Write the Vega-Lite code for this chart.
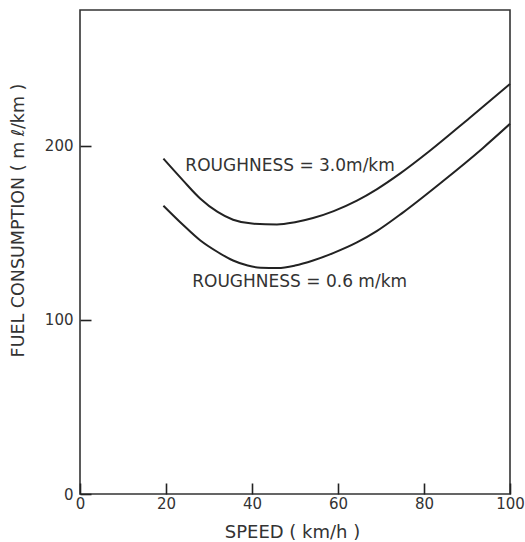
{
  "$schema": "https://vega.github.io/schema/vega-lite/v6.json",
  "autosize": "none",
  "width": 430,
  "height": 484,
  "padding": {"left": 80, "top": 10, "right": 15, "bottom": 48},
  "background": "white",
  "config": {
    "view": {"stroke": "#333", "strokeWidth": 1.6},
    "font": "DejaVu Sans",
    "axis": {
      "grid": false,
      "domain": false,
      "offset": -11,
      "ticks": true,
      "tickColor": "#222",
      "tickWidth": 1.6,
      "tickSize": 11,
      "labelFlush": false,
      "labelFont": "DejaVu Sans",
      "labelFontSize": 15,
      "labelColor": "#333",
      "titleFont": "DejaVu Sans",
      "titleFontSize": 17.5,
      "titleFontWeight": "normal",
      "titleColor": "#333"
    }
  },
  "datasets": {
    "curves": [
      {"speed": 19.4, "fuel": 192.6, "roughness": "3.0"},
      {"speed": 24, "fuel": 180, "roughness": "3.0"},
      {"speed": 28, "fuel": 169.6, "roughness": "3.0"},
      {"speed": 32, "fuel": 162, "roughness": "3.0"},
      {"speed": 35.6, "fuel": 157.5, "roughness": "3.0"},
      {"speed": 40, "fuel": 155.3, "roughness": "3.0"},
      {"speed": 45.8, "fuel": 154.8, "roughness": "3.0"},
      {"speed": 50, "fuel": 156.1, "roughness": "3.0"},
      {"speed": 54.2, "fuel": 158.5, "roughness": "3.0"},
      {"speed": 59, "fuel": 162.5, "roughness": "3.0"},
      {"speed": 64.4, "fuel": 168.5, "roughness": "3.0"},
      {"speed": 69, "fuel": 175, "roughness": "3.0"},
      {"speed": 74.4, "fuel": 184, "roughness": "3.0"},
      {"speed": 81.3, "fuel": 197, "roughness": "3.0"},
      {"speed": 90.6, "fuel": 216, "roughness": "3.0"},
      {"speed": 100, "fuel": 235.5, "roughness": "3.0"},
      {"speed": 19.4, "fuel": 165.6, "roughness": "0.6"},
      {"speed": 24, "fuel": 154.5, "roughness": "0.6"},
      {"speed": 28, "fuel": 145.6, "roughness": "0.6"},
      {"speed": 32, "fuel": 139, "roughness": "0.6"},
      {"speed": 35.6, "fuel": 134.1, "roughness": "0.6"},
      {"speed": 39, "fuel": 131.2, "roughness": "0.6"},
      {"speed": 42, "fuel": 130, "roughness": "0.6"},
      {"speed": 46, "fuel": 129.8, "roughness": "0.6"},
      {"speed": 50, "fuel": 131.2, "roughness": "0.6"},
      {"speed": 54.2, "fuel": 134.1, "roughness": "0.6"},
      {"speed": 59, "fuel": 138.5, "roughness": "0.6"},
      {"speed": 64.4, "fuel": 144.5, "roughness": "0.6"},
      {"speed": 69, "fuel": 151, "roughness": "0.6"},
      {"speed": 75, "fuel": 161.5, "roughness": "0.6"},
      {"speed": 84.3, "fuel": 179.5, "roughness": "0.6"},
      {"speed": 93.6, "fuel": 198.5, "roughness": "0.6"},
      {"speed": 100, "fuel": 212.6, "roughness": "0.6"}
    ],
    "labels": [
      {"speed": 24.5, "fuel": 188.5, "label": "ROUGHNESS = 3.0m/km"},
      {"speed": 26.1, "fuel": 121.5, "label": "ROUGHNESS = 0.6 m/km"}
    ]
  },
  "layer": [
    {
      "data": {"name": "curves"},
      "mark": {"type": "line", "interpolate": "monotone", "color": "#222", "strokeWidth": 2},
      "encoding": {
        "x": {
          "field": "speed",
          "type": "quantitative",
          "scale": {"domain": [0, 100], "nice": false},
          "axis": {
            "values": [0, 20, 40, 60, 80, 100],
            "title": "SPEED ( km/h )",
            "titleX": 212,
            "titleY": 49,
            "titleFontSize": 18,
            "titleBaseline": "middle",
            "titleAlign": "center",
            "labelPadding": 2
          }
        },
        "y": {
          "field": "fuel",
          "type": "quantitative",
          "scale": {"domain": [0, 278], "nice": false},
          "axis": {
            "values": [0, 100, 200],
            "title": "FUEL CONSUMPTION ( m ℓ/km )",
            "titleAngle": 270,
            "titleX": -73,
            "titleY": 210,
            "titleBaseline": "middle",
            "titleAlign": "center",
            "labelPadding": 7
          }
        },
        "detail": {"field": "roughness", "type": "nominal"}
      }
    },
    {
      "data": {"name": "labels"},
      "mark": {"type": "text", "align": "left", "baseline": "middle", "fontSize": 17, "color": "#333", "font": "DejaVu Sans"},
      "encoding": {
        "x": {"field": "speed", "type": "quantitative"},
        "y": {"field": "fuel", "type": "quantitative"},
        "text": {"field": "label", "type": "nominal"}
      }
    }
  ]
}
